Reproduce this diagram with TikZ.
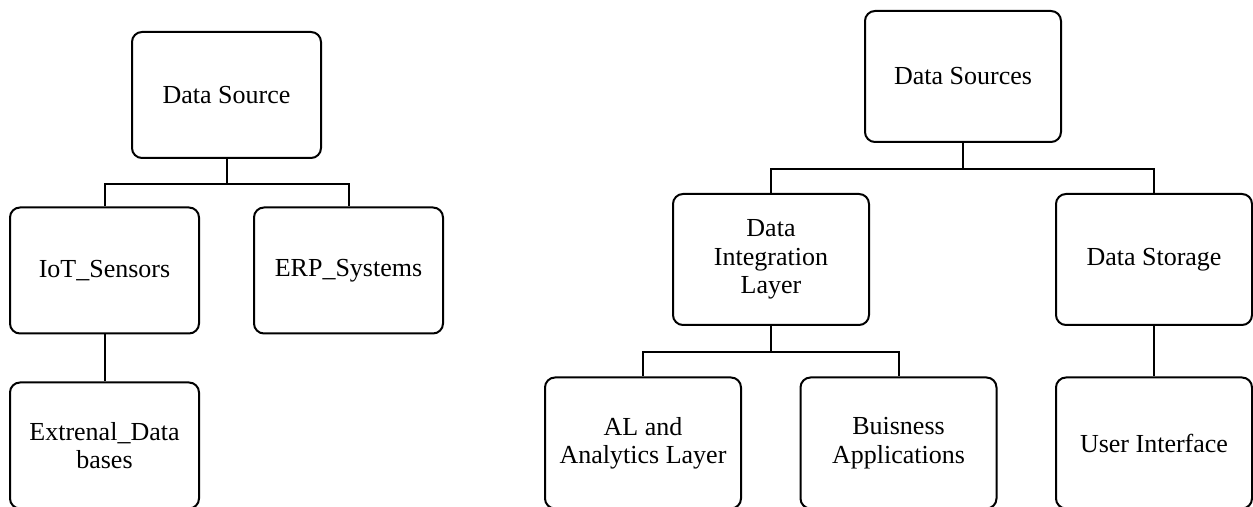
\documentclass[tikz,border=0pt]{standalone}
\usepackage{fontspec}
\setmainfont{Liberation Serif}
\begin{document}
\begin{tikzpicture}[x=0.5pt,y=-0.5pt,
  box/.style={draw=black, line width=1pt, rounded corners=5pt, align=center,
    font=\fontsize{13}{14.2}\selectfont, inner sep=2pt},
  lbox/.style={box, minimum width=94.5pt, minimum height=63pt},
  rbox/.style={box, minimum width=98pt, minimum height=65.5pt},
  link/.style={line width=1pt}]
\useasboundingbox (0,0) rectangle (1253,507);
\clip (0,0) rectangle (1253,507);
% left tree
\node[lbox] (ds)  at (226.5,95)   {Data Source};
\node[lbox] (iot) at (104.5,270.5) {IoT\_Sensors};
\node[lbox] (erp) at (348.5,270.5) {ERP\_Systems};
\node[lbox] (ext) at (104.5,445.5) {Extrenal\_Data\\bases};
\draw[link] (ds.south) -- ++(0,25) -| (iot.north);
\draw[link] (ds.south) -- ++(0,25) -| (erp.north);
\draw[link] (iot.south) -- (ext.north);
% right tree
\node[rbox] (dss) at (963,76.5)   {Data Sources};
\node[rbox] (dil) at (771,259.5)  {Data\\Integration\\Layer};
\node[rbox] (dst) at (1154,259.5) {Data Storage};
\node[rbox] (al)  at (643,443)    {AL and\\Analytics Layer};
\node[rbox] (bus) at (898.5,443)  {Buisness\\Applications};
\node[rbox] (ui)  at (1154,443)   {User Interface};
\draw[link] (dss.south) -- ++(0,26) -| (dil.north);
\draw[link] (dss.south) -- ++(0,26) -| (dst.north);
\draw[link] (dil.south) -- ++(0,26) -| (al.north);
\draw[link] (dil.south) -- ++(0,26) -| (bus.north);
\draw[link] (dst.south) -- (ui.north);
\end{tikzpicture}
\end{document}
